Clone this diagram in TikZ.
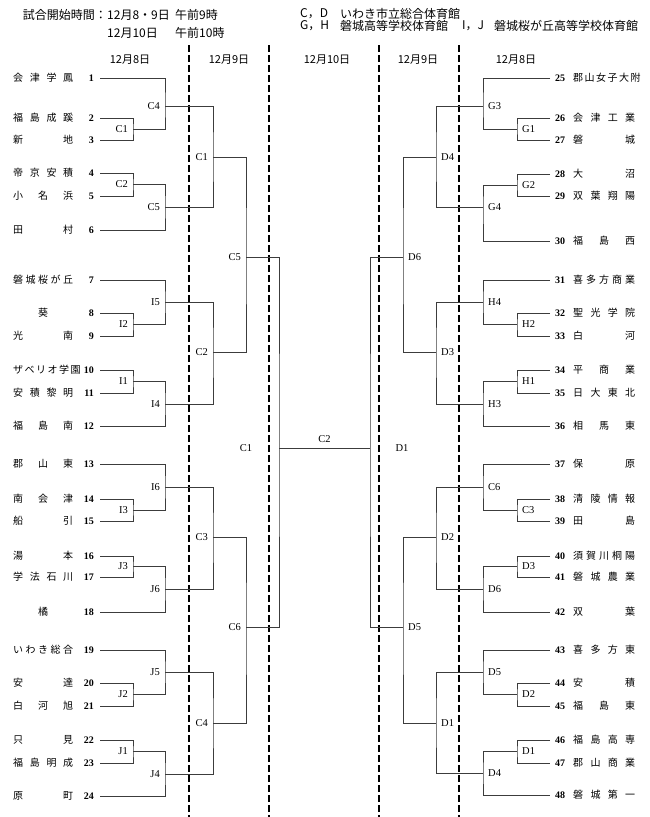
\documentclass[tikz,border=0pt]{standalone}
\usepackage{fontspec}
\setmainfont{Liberation Serif}
\newfontfamily\jpfont{Noto Sans CJK JP}
\usepackage{tikz}
\usetikzlibrary{calc}
\definecolor{bracketgray}{RGB}{60,60,60}

\begin{document}
\begin{tikzpicture}[x=1pt, y=-1pt,
    bracket/.style={draw=bracketgray, line width=0.8pt},
    dayline/.style={line width=1.3pt, dash pattern=on 7pt off 3pt},
    team/.style={inner sep=0pt, text height=8.8pt, text depth=1.2pt, font=\jpfont\fontsize{10}{12}\selectfont},
    seed/.style={inner sep=0pt, text height=8.8pt, text depth=1.2pt, font=\bfseries\fontsize{10}{12}\selectfont},
    gamelabel/.style={inner sep=0pt, font=\fontsize{10.5}{12}\selectfont},
    head/.style={inner sep=0pt, anchor=west, font=\jpfont\fontsize{12}{13}\selectfont}]

    \useasboundingbox (0,0) rectangle (650,817);

    % 1. HEADER (start times and venues)
    \node[head, anchor=east] (start) at (107,15) {試合開始時間：};
    \node[head] (day1) at (107,15) {12月8・9日};
    \node[head] (time1) at (175,15) {午前9時};
    \node[head] (day2) at (107,33) {12月10日};
    \node[head] (time2) at (175,33) {午前10時};
    \node[head] (cdcode) at (300,14) {C，D};
    \node[head] (cdhall) at (340,14) {いわき市立総合体育館};
    \node[head] (ghcode) at (300,26) {G，H};
    \node[head] (ghhall) at (340,26) {磐城高等学校体育館};
    \node[head] (ijcode) at (462,26) {I，J};
    \node[head] (ijhall) at (494,26) {磐城桜が丘高等学校体育館};

    % 2. DAY SEPARATORS AND DATES
    \foreach \x in {189,269,379,459}
        \draw[dayline] (\x,45) -- (\x,817);
    \foreach \x/\day in {130/12月8日, 229/12月9日, 327/12月10日, 418/12月9日, 516/12月8日}
        \node[font=\jpfont\fontsize{11}{13}\selectfont, inner sep=0pt] (date\x) at (\x,60) {\day};

    % 3. TEAMS, LEFT HALF
    \foreach \n/\name/\y in {1/会 津 学 鳳/78, 2/福 島 成 蹊/118, 3/新 地/140,
        4/帝 京 安 積/173, 5/小 名 浜/196, 6/田 村/230,
        7/磐 城 桜 が 丘/280, 8/\hfil 葵\hfil/313, 9/光 南/336,
        10/ザ ベ リ オ 学 園/370, 11/安 積 黎 明/393, 12/福 島 南/426,
        13/郡 山 東/464, 14/南 会 津/499, 15/船 引/521,
        16/湯 本/556, 17/学 法 石 川/577, 18/\hfil 橘\hfil/612,
        19/い わ き 総 合/650, 20/安 達/683, 21/白 河 旭/706,
        22/只 見/740, 23/福 島 明 成/763, 24/原 町/796} {
        \coordinate (t\n) at (100,\y);
        \node[seed, anchor=east] (s\n) at (94,\y) {\n};
        \node[team, anchor=west] (n\n) at (13,\y) {\makebox[60pt][s]{\name}};
    }

    % 4. TEAMS, RIGHT HALF
    \foreach \n/\name/\y in {25/郡 山 女 子 大 附/78, 26/会 津 工 業/118, 27/磐 城/140,
        28/大 沼/174, 29/双 葉 翔 陽/196, 30/福 島 西/241,
        31/喜 多 方 商 業/280, 32/聖 光 学 院/313, 33/白 河/336,
        34/平 商 業/370, 35/日 大 東 北/393, 36/相 馬 東/426,
        37/保 原/464, 38/清 陵 情 報/499, 39/田 島/521,
        40/須 賀 川 桐 陽/556, 41/磐 城 農 業/577, 42/双 葉/612,
        43/喜 多 方 東/650, 44/安 積/683, 45/福 島 東/706,
        46/福 島 高 専/740, 47/郡 山 商 業/763, 48/磐 城 第 一/795} {
        \coordinate (t\n) at (550,\y);
        \node[seed, anchor=west] (s\n) at (555,\y) {\n};
        \node[team, anchor=west] (n\n) at (573,\y) {\makebox[62pt][s]{\name}};
    }

    % 5. MATCHES, LEFT HALF (game / x / y / upper / lower / label)
    \foreach \m/\x/\y/\a/\b/\g in {pC1/133/129/t2/t3/C1, pC2/133/184.5/t4/t5/C2,
        pI2/133/324.5/t8/t9/I2, pI1/133/381.5/t10/t11/I1,
        pI3/133/510/t14/t15/I3, pJ3/133/566.5/t16/t17/J3,
        pJ2/133/694.5/t20/t21/J2, pJ1/133/751.5/t22/t23/J1,
        pC4/165/106/t1/pC1/C4, pC5/165/207/pC2/t6/C5,
        pI5/165/302/t7/pI2/I5, pI4/165/404/pI1/t12/I4,
        pI6/165/487/t13/pI3/I6, pJ6/165/589/pJ3/t18/J6,
        pJ5/165/672/t19/pJ2/J5, pJ4/165/774/pJ1/t24/J4,
        qC1/213/157/pC4/pC5/C1, qC2/213/352/pI5/pI4/C2,
        qC3/213/537/pI6/pJ6/C3, qC4/213/723/pJ5/pJ4/C4,
        qC5/246/257/qC1/qC2/C5, qC6/246/627/qC3/qC4/C6} {
        \coordinate (\m) at (\x,\y);
        \draw[bracket] (\a) -| (\m) |- (\b);
        \node[gamelabel, anchor=east] (l\m) at ([xshift=-5pt]\m) {\g};
    }

    % 6. MATCHES, RIGHT HALF
    \foreach \m/\x/\y/\a/\b/\g in {pG1/517/129/t26/t27/G1, pG2/517/185/t28/t29/G2,
        pH2/517/324.5/t32/t33/H2, pH1/517/381.5/t34/t35/H1,
        pC3/517/510/t38/t39/C3, pD3/517/566.5/t40/t41/D3,
        pD2/517/694.5/t44/t45/D2, pD1/517/751.5/t46/t47/D1,
        pG3/483/106/t25/pG1/G3, pG4/483/207/pG2/t30/G4,
        pH4/483/302/t31/pH2/H4, pH3/483/404/pH1/t36/H3,
        pC6/483/487/t37/pC3/C6, pD6/483/589/pD3/t42/D6,
        pD5/483/672/t43/pD2/D5, pD4/483/773/pD1/t48/D4,
        qD4/436/157/pG3/pG4/D4, qD3/436/352/pH4/pH3/D3,
        qD2/436/537/pC6/pD6/D2, qD1/436/723/pD5/pD4/D1,
        qD6/403/257/qD4/qD3/D6, qD5/403/627/qD2/qD1/D5} {
        \coordinate (\m) at (\x,\y);
        \draw[bracket] (\a) -| (\m) |- (\b);
        \node[gamelabel, anchor=west] (l\m) at ([xshift=5pt]\m) {\g};
    }

    % 7. SEMIFINALS AND FINAL (12/10)
    \coordinate (semiL) at (279,448);
    \coordinate (semiR) at (370,448);
    \draw[bracket] (qC5) -| (semiL) |- (qC6);
    \draw[bracket] (qD6) -| (semiR) |- (qD5);
    \draw[bracket] (semiL) -- node[gamelabel, above=5pt] (final) {C2} (semiR);
    \node[gamelabel] (semiLlab) at (246,448) {C1};
    \node[gamelabel] (semiRlab) at (402,448) {D1};

\end{tikzpicture}
\end{document}
